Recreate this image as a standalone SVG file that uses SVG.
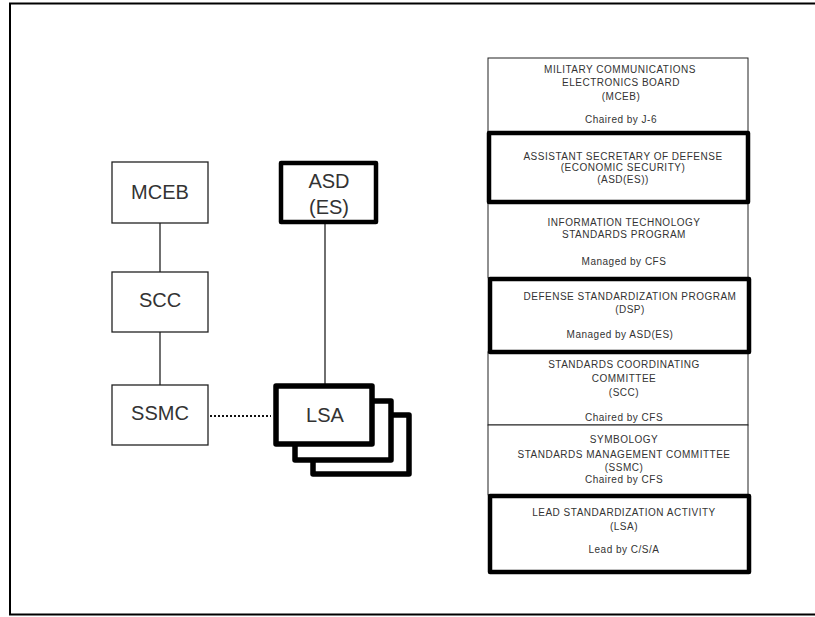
<svg xmlns="http://www.w3.org/2000/svg" width="815" height="617" viewBox="0 0 815 617">
<style>
.big{font-family:"Liberation Sans",Arial,sans-serif;font-size:20px;fill:#333;text-anchor:middle}
.sm{font-family:"Liberation Sans",Arial,sans-serif;font-size:10px;letter-spacing:0.5px;fill:#333;text-anchor:middle}
.thin{fill:#fff;stroke:#222;stroke-width:1.3}
.thick{fill:#fff;stroke:#000;stroke-width:4.5;stroke-linejoin:round}
.lsa{fill:#fff;stroke:#000;stroke-width:5.5;stroke-linejoin:round}
.cell{fill:#fff;stroke:#222;stroke-width:1}
.conn{stroke:#222;stroke-width:1.3;fill:none}
</style>
<rect width="815" height="617" fill="#fff"/>
<path d="M10,614.5 V3.5 H815 M9,614.5 H815" fill="none" stroke="#000" stroke-width="2"/>
<g id="connectors">
<line class="conn" x1="160" y1="223" x2="160" y2="272"/>
<line class="conn" x1="160" y1="332" x2="160" y2="385"/>
<line class="conn" x1="325" y1="224" x2="325" y2="384"/>
<line x1="210" y1="416" x2="271" y2="416" stroke="#111" stroke-width="2" stroke-dasharray="2,2"/>
</g>
<g id="mceb"><rect class="thin" x="112" y="162" width="96" height="61"/><text class="big" x="160" y="199">MCEB</text></g>
<g id="scc"><rect class="thin" x="112" y="272" width="96" height="60"/><text class="big" x="160" y="307">SCC</text></g>
<g id="ssmc"><rect class="thin" x="112" y="385" width="96" height="60"/><text class="big" x="160" y="420">SSMC</text></g>
<g id="asd"><rect class="thick" x="281" y="163" width="95" height="59"/><text class="big" x="329" y="188">ASD</text><text class="big" x="329" y="214">(ES)</text></g>
<g id="lsa">
<rect class="lsa" x="313" y="415" width="96" height="59"/>
<rect class="lsa" x="295" y="401" width="96" height="59"/>
<rect class="lsa" x="276" y="386" width="96" height="58"/>
<text class="big" x="325" y="422">LSA</text>
</g>
<g id="col-mceb"><rect class="cell" x="488" y="58" width="260" height="74"/>
<text class="sm" x="620" y="73">MILITARY COMMUNICATIONS</text>
<text class="sm" x="621" y="86">ELECTRONICS BOARD</text>
<text class="sm" x="621" y="100">(MCEB)</text>
<text class="sm" x="621" y="123">Chaired by J-6</text></g>
<g id="col-it"><rect class="cell" x="488" y="202" width="260" height="76"/>
<text class="sm" x="624" y="226">INFORMATION TECHNOLOGY</text>
<text class="sm" x="624" y="238">STANDARDS PROGRAM</text>
<text class="sm" x="624" y="265">Managed by CFS</text></g>
<g id="col-scc"><rect class="cell" x="488" y="352" width="260" height="73"/>
<text class="sm" x="624" y="368">STANDARDS COORDINATING</text>
<text class="sm" x="624" y="382">COMMITTEE</text>
<text class="sm" x="624" y="396">(SCC)</text>
<text class="sm" x="624" y="421">Chaired by CFS</text></g>
<g id="col-ssmc"><rect class="cell" x="488" y="425" width="260" height="70"/>
<text class="sm" x="624" y="443">SYMBOLOGY</text>
<text class="sm" x="624" y="458">STANDARDS MANAGEMENT COMMITTEE</text>
<text class="sm" x="624" y="471">(SSMC)</text>
<text class="sm" x="624" y="483">Chaired by CFS</text></g>
<g id="col-asd"><rect class="thick" x="489" y="133" width="259" height="69"/>
<text class="sm" x="623" y="160">ASSISTANT SECRETARY OF DEFENSE</text>
<text class="sm" x="623" y="171">(ECONOMIC SECURITY)</text>
<text class="sm" x="623" y="183">(ASD(ES))</text></g>
<g id="col-dsp"><rect class="thick" x="490" y="279" width="259" height="73"/>
<text class="sm" x="630" y="300">DEFENSE STANDARDIZATION PROGRAM</text>
<text class="sm" x="630" y="313">(DSP)</text>
<text class="sm" x="620" y="338">Managed by ASD(ES)</text></g>
<g id="col-lsa"><rect class="thick" x="490" y="496" width="259" height="76"/>
<text class="sm" x="624" y="516">LEAD STANDARDIZATION ACTIVITY</text>
<text class="sm" x="624" y="530">(LSA)</text>
<text class="sm" x="624" y="553">Lead by C/S/A</text></g>
</svg>
